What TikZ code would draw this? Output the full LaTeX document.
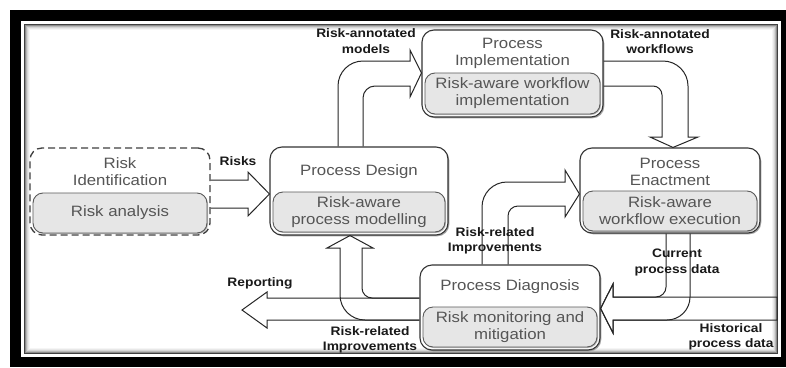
\documentclass[tikz,border=0pt]{standalone}
\usepackage{fontspec}
\setmainfont{Liberation Sans}[FakeStretch=1.12]
\usetikzlibrary{calc,shadows}
\definecolor{boxtext}{HTML}{555555}
\definecolor{innerfill}{HTML}{E6E6E6}
\tikzset{
  outerbox/.style={draw=black!80, line width=1.1pt, fill=white, rounded corners=12pt, inner sep=0pt,
     drop shadow={shadow xshift=1.3pt, shadow yshift=-1.3pt, fill=black!45, opacity=0.8}},
  dashbox/.style={draw=black!75, line width=1.3pt, dash pattern=on 7pt off 4pt, fill=white, rounded corners=12pt, inner sep=0pt},
  innerbox/.style={draw=black!65, line width=0.9pt, fill=innerfill, rounded corners=10pt, inner sep=0pt,
     align=center, text=boxtext, font=\fontsize{15}{17}\selectfont,
     drop shadow={shadow xshift=1pt, shadow yshift=-1pt, fill=black!40, opacity=0.7}},
  titletext/.style={align=center, text=boxtext, font=\fontsize{15}{17}\selectfont, inner sep=0pt},
  lbl/.style={align=center, text=black!90, font=\bfseries\fontsize{12.3}{15.5}\selectfont, inner sep=0pt},
  blockarrow/.style={draw=black!85, line width=1pt, line join=miter}
}
\begin{document}
\begin{tikzpicture}[x=1pt,y=-1pt]
\useasboundingbox (0,0) rectangle (786,367);
% frame
\fill[black] (10,10) rectangle (786,367);
\fill[white] (21,21) rectangle (781,357);
\foreach \i/\c in {0/75,1/45,2/28,3/16,4/9,5/4}{
  \draw[black!\c, line width=1pt] (24.5+\i,24.5+\i) rectangle (777.5-\i,353.5-\i);
}
% boxes
\node[dashbox, minimum width=180pt, minimum height=87pt] (ri) at (120,191.5) {};
\node[innerbox, minimum width=174pt, minimum height=40pt] (riin) at (120,213) {Risk analysis};
\node[titletext] (rit) at (120,171.5) {Risk\\Identification};

\node[outerbox, minimum width=178pt, minimum height=88pt] (design) at (359,191) {};
\node[innerbox, minimum width=172pt, minimum height=40pt] (designin) at (359,212) {Risk-aware\\process modelling};
\node[titletext] (designt) at (359,172) {Process Design};

\node[outerbox, minimum width=181pt, minimum height=87pt] (impl) at (512.5,73.5) {};
\node[innerbox, minimum width=175pt, minimum height=41pt] (implin) at (512.5,93.5) {Risk-aware workflow\\implementation};
\node[titletext] (implt) at (512.5,53.5) {Process\\Implementation};

\node[outerbox, minimum width=180pt, minimum height=85pt] (enact) at (670,190.5) {};
\node[innerbox, minimum width=174pt, minimum height=40pt] (enactin) at (670,211) {Risk-aware\\workflow execution};
\node[titletext] (enactt) at (670,171.5) {Process\\Enactment};

\node[outerbox, minimum width=180pt, minimum height=85pt] (diag) at (510,307.5) {};
\node[innerbox, minimum width=174pt, minimum height=40pt] (diagin) at (510,327) {Risk monitoring and\\mitigation};
\node[titletext] (diagt) at (510,287) {Process Diagnosis};

% arrows
\draw[blockarrow] (ri.east |- 0,180) -- (248,180) -- (248,172) -- (design.west |- 0,194) -- (248,216) -- (248,208) -- (ri.east |- 0,208);

\draw[blockarrow] (338,0 |- design.north) -- (338,86) arc[start angle=180,end angle=270,radius=25] -- (410,61) -- (410,50)
  -- (impl.west |- 0,73) -- (410,97) -- (410,86) -- (375,86) arc[start angle=270,end angle=180,radius=12] -- (363,0 |- design.north);

\draw[blockarrow] (impl.east |- 0,61) -- (663,61) arc[start angle=270,end angle=360,radius=25] -- (688,137) -- (698,137)
  -- (673,0 |- enact.north) -- (650,137) -- (662,137) -- (662,95) arc[start angle=0,end angle=-90,radius=9] -- (impl.east |- 0,86);

\draw[blockarrow] (482,0 |- diag.north) -- (482,207) arc[start angle=180,end angle=270,radius=25] -- (565,182) -- (565,170)
  -- (enact.west |- 0,194) -- (565,217) -- (565,206) -- (518,206) arc[start angle=270,end angle=180,radius=10] -- (508,0 |- diag.north);

\draw[blockarrow] (777,297) -- (613,297) -- (613,284) -- (diag.east |- 0,308.5) -- (613,333) -- (613,320) -- (777,320) -- cycle;

\draw[blockarrow] (666,0 |- enact.south) -- (666,287) arc[start angle=0,end angle=90,radius=10] -- (613,297) -- (613,284)
  -- (diag.east |- 0,308.5) -- (613,333) -- (613,320) -- (667,320) arc[start angle=90,end angle=0,radius=23] -- (690,0 |- enact.south);

\coordinate (reportend) at (242,310);
\draw[blockarrow] (diag.west |- 0,298) -- (267,298) -- (267,292) -- (reportend) -- (267,328) -- (267,320) -- (diag.west |- 0,320);

\draw[blockarrow] (diag.west |- 0,320) -- (365,320) arc[start angle=90,end angle=180,radius=25] -- (340,248) -- (327,248)
  -- (350,0 |- design.south) -- (373,248) -- (362,248) -- (362,288) arc[start angle=180,end angle=90,radius=10] -- (diag.west |- 0,298);

% labels
\node[lbl] (l1) at (238,161) {Risks};
\node[lbl] (l2) at (366,41) {Risk-annotated\\models};
\node[lbl] (l3) at (660,41.5) {Risk-annotated\\workflows};
\node[lbl] (l4) at (495,241) {Risk-related\\Improvements};
\node[lbl] (l5) at (677,262.5) {Current\\process data};
\node[lbl] (l6) at (260,283) {Reporting};
\node[lbl] (l7) at (370,340) {Risk-related\\Improvements};
\node[lbl] (l8) at (731,337) {Historical\\process data};
\end{tikzpicture}
\end{document}
